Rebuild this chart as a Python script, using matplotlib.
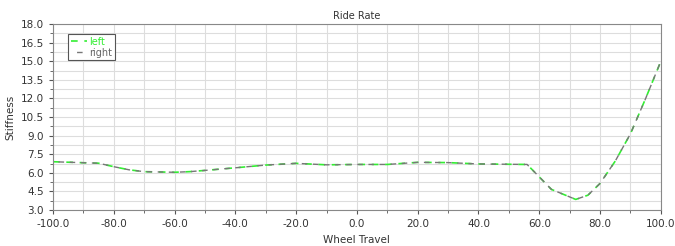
import matplotlib
matplotlib.use("Agg")
import matplotlib.pyplot as plt
from matplotlib.ticker import MultipleLocator, FormatStrFormatter

# wheel travel vs ride rate stiffness
travel = [-100, -85, -80, -75, -70, -60, -55, -50, -40, -30, -20, -10, 0, 10, 20, 30,
          40, 56, 64, 72, 76, 80, 85, 90, 95, 100]
left = [6.9, 6.78, 6.5, 6.25, 6.1, 6.05, 6.1, 6.2, 6.41, 6.63, 6.77, 6.65, 6.68, 6.68,
        6.85, 6.83, 6.72, 6.68, 4.67, 3.86, 4.2, 5.15, 6.95, 9.15, 12.0, 15.0]
right = list(left)

fig = plt.figure(figsize=(6.75, 2.46), dpi=100)
ax = fig.add_axes([0.0785, 0.146, 0.9005, 0.756])

ax.plot(travel, left, color="#33ee33", lw=1.2, ls=(0, (4, 4)), label="left")
ax.plot(travel, right, color="#777777", lw=1.0, ls=(4, (4, 4)), label="right")

ax.set_xlim(-100, 100)
ax.set_ylim(3, 18)
ax.xaxis.set_major_locator(MultipleLocator(20))
ax.xaxis.set_minor_locator(MultipleLocator(10))
ax.yaxis.set_major_locator(MultipleLocator(1.5))
ax.yaxis.set_minor_locator(MultipleLocator(0.75))
ax.xaxis.set_major_formatter(FormatStrFormatter("%.1f"))
ax.yaxis.set_major_formatter(FormatStrFormatter("%.1f"))
ax.grid(which="both", color="#dddddd", lw=0.8)
ax.set_axisbelow(True)
for s in ax.spines.values():
    s.set_color("#888888")
ax.tick_params(which="both", colors="#555555", labelsize=7.5, labelcolor="#333333")
ax.tick_params(which="major", length=3)
ax.tick_params(which="minor", length=2)

ax.set_title("Ride Rate", fontsize=7, color="#333333", pad=4)
ax.set_xlabel("Wheel Travel", fontsize=7.5, color="#333333")
ax.set_ylabel("Stiffness", fontsize=7.5, color="#333333")

leg = ax.legend(loc="upper left", bbox_to_anchor=(0.017, 0.975), fontsize=7,
                handlelength=1.6, handletextpad=0.3, borderpad=0.3,
                labelspacing=0.1, fancybox=False, framealpha=1)
leg.get_frame().set_edgecolor("#555555")
leg.get_frame().set_linewidth(0.8)
leg.get_texts()[0].set_color("#33ee33")
leg.get_texts()[1].set_color("#666666")

fig.savefig("out.png", dpi=100)
